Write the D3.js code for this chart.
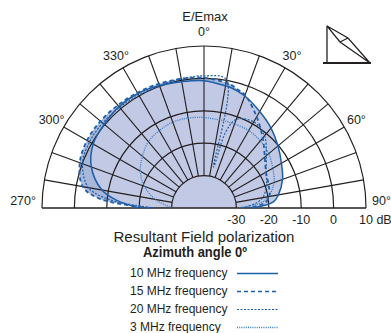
<!DOCTYPE html>
<html>
<head>
<meta charset="utf-8">
<script src="https://cdn.jsdelivr.net/npm/d3@7"></script>
<style>
  body { margin: 0; background: #fff; }
  text { font-family: "Liberation Sans", Arial, sans-serif; fill: #231f20; }
</style>
</head>
<body>
<script>
// elevation angles (deg, 0 = up, clockwise) shared by every series
var angles = [-90, -85, -80, -70, -60, -50, -40, -30, -20, -10, 0, 10, 13, 16, 20, 30, 40, 50, 60, 70, 80, 85, 90];

// E/Emax in dB
var mhz10 = [-20, -13, -8, -3, -0.5, 0.2, 0.8, 0.8, 0.2, -0.4, -0.7, -1.7, -2, -2.5, -3.2, -5.6, -7.8, -10.2, -12.4, -14.2, -16.7, -18.5, -25];
var mhz15 = [-23, -7.8, -2, 0.8, 1.7, 1.7, 1.4, 1.1, 0.8, 0.5, 0.2, -0.7, -1.2, -2, -2.9, -7.5, -11.8, -15.5, -17.9, -18.8, -19.5, -21, -26];
var mhz20 = [-24.7, -10.9, -3.8, -0.1, 0.8, 0.8, 0.5, 0.2, 0.2, 0.5, 0.8, 0.2, -27, -15.5, -10.9, -9.3, -10.9, -14.9, -17.9, -19.5, -21.6, -24.1, -28.3];
var mhz3 = [-30, -27.7, -24.7, -20.4, -17.3, -15.2, -13.3, -12.4, -11.8, -11.8, -12.1, -12.4, -12.4, -12.4, -12.4, -12.4, -13, -13.9, -15.5, -17, -19.8, -22.5, -30];

var ringValues = [-30, -20, -10, 0, 10];
var ringLabels = ["-30", "-20", "-10", "0", "10 dB"];
var angleTicks = [-90, -60, -30, 0, 30, 60, 90];
var angleLabels = ["270°", "300°", "330°", "0°", "30°", "60°", "90°"];
var legendNames = ["10 MHz frequency", "15 MHz frequency", "20 MHz frequency", "3 MHz frequency"];

var svgWidth = 391;
var svgHeight = 333;
var cx = 204, cy = 208, R = 162;
var blue = "#1d5fa8";

var svg = d3.select("body")
  .append("svg")
  .attr("width", svgWidth)
  .attr("height", svgHeight);

var rScale = d3.scaleLinear().domain([-40, 10]).range([0, R]);
var rad = d => d * Math.PI / 180;

var series = [
  { name: legendNames[0], values: mhz10, dash: null, width: 1.5, color: blue },
  { name: legendNames[1], values: mhz15, dash: "4,3", width: 1.8, color: blue },
  { name: legendNames[2], values: mhz20, dash: "2,1.5", width: 1.2, color: blue },
  { name: legendNames[3], values: mhz3, dash: "1,1.2", width: 1.3, color: "#2f7ac6" }
];

var line = d3.lineRadial()
  .angle(d => rad(d[0]))
  .radius(d => rScale(d[1]))
  .curve(d3.curveCatmullRom.alpha(0.5));

var pts = s => angles.map((a, i) => [a, s.values[i]]);

var plot = svg.append("g").attr("transform", `translate(${cx}, ${cy})`);

// fills: 15 MHz darker underneath, 10 MHz lighter on top
plot.append("path").attr("d", line(pts(series[1])) + "Z").attr("fill", "#a8b7da");
plot.append("path").attr("d", line(pts(series[0])) + "Z").attr("fill", "#c1c9e4");

// grid rings
var arc = d3.arc().startAngle(-Math.PI / 2).endAngle(Math.PI / 2);
plot.selectAll(".ring")
  .data(ringValues)
  .enter()
  .append("path")
  .attr("d", d => arc({ innerRadius: rScale(d), outerRadius: rScale(d) }))
  .attr("fill", "none")
  .attr("stroke", "#231f20")
  .attr("stroke-width", 1.2);

// spokes every 10 deg
plot.selectAll(".spoke")
  .data(d3.range(-80, 81, 10))
  .enter()
  .append("line")
  .attr("x1", d => rScale(-30) * Math.sin(rad(d)))
  .attr("y1", d => -rScale(-30) * Math.cos(rad(d)))
  .attr("x2", d => R * Math.sin(rad(d)))
  .attr("y2", d => -R * Math.cos(rad(d)))
  .attr("stroke", "#231f20")
  .attr("stroke-width", 1.1);

plot.append("line")
  .attr("x1", -R).attr("x2", R)
  .attr("y1", 0).attr("y2", 0)
  .attr("stroke", "#231f20")
  .attr("stroke-width", 1.6);

// pattern curves
plot.selectAll(".curve")
  .data(series)
  .enter()
  .append("path")
  .attr("d", d => line(pts(d)))
  .attr("fill", "none")
  .attr("stroke", d => d.color)
  .attr("stroke-width", d => d.width)
  .attr("stroke-dasharray", d => d.dash);

// angle labels
plot.selectAll(".alabel")
  .data(angleTicks)
  .enter()
  .append("text")
  .attr("x", d => Math.abs(d) == 90 ? (d < 0 ? -R - 6 : R + 6) : 176 * Math.sin(rad(d)))
  .attr("y", d => Math.abs(d) == 90 ? -3 : -176 * Math.cos(rad(d)) + 4)
  .attr("text-anchor", d => d == -90 ? "end" : d == 90 ? "start" : "middle")
  .attr("font-size", "12.5px")
  .text((d, i) => angleLabels[i]);

// dB labels
plot.selectAll(".rlabel")
  .data(ringValues)
  .enter()
  .append("text")
  .attr("x", (d, i) => i == 4 ? rScale(d) - 7 : rScale(d))
  .attr("y", 16)
  .attr("text-anchor", (d, i) => i == 4 ? "start" : "middle")
  .attr("font-size", "12.5px")
  .text((d, i) => ringLabels[i]);

svg.append("text")
  .attr("x", 205).attr("y", 21)
  .attr("text-anchor", "middle")
  .attr("font-size", "13px")
  .text("E/Emax");

svg.append("text")
  .attr("x", 204).attr("y", 242)
  .attr("text-anchor", "middle")
  .attr("font-size", "15px")
  .text("Resultant Field polarization");

svg.append("text")
  .attr("x", 195).attr("y", 257)
  .attr("text-anchor", "middle")
  .attr("font-size", "14px")
  .attr("font-weight", "bold")
  .attr("textLength", 104)
  .attr("lengthAdjust", "spacingAndGlyphs")
  .text("Azimuth angle 0º");

// legend
var legend = svg.selectAll(".legend")
  .data(series)
  .enter()
  .append("g")
  .attr("transform", (d, i) => `translate(130, ${277 + i * 18})`);

legend.append("text")
  .attr("font-size", "12px")
  .text(d => d.name);

legend.append("line")
  .attr("x1", 107).attr("x2", 148)
  .attr("y1", -3.5).attr("y2", -3.5)
  .attr("stroke", d => d.color)
  .attr("stroke-width", d => Math.min(d.width, 1.4))
  .attr("stroke-dasharray", d => d.dash);

// antenna icon top right
var icon = svg.append("g")
  .attr("transform", "translate(327, 26)")
  .attr("fill", "none")
  .attr("stroke", "#231f20");
icon.append("path").attr("d", "M0,0V37").attr("stroke-width", 1.3);
icon.append("path").attr("d", "M-4,37H44").attr("stroke-width", 2);
icon.append("path").attr("d", "M0,0L13,16L43,37L21,12Z M13,16L21,12").attr("stroke-width", 1.2);
</script>
</body>
</html>
